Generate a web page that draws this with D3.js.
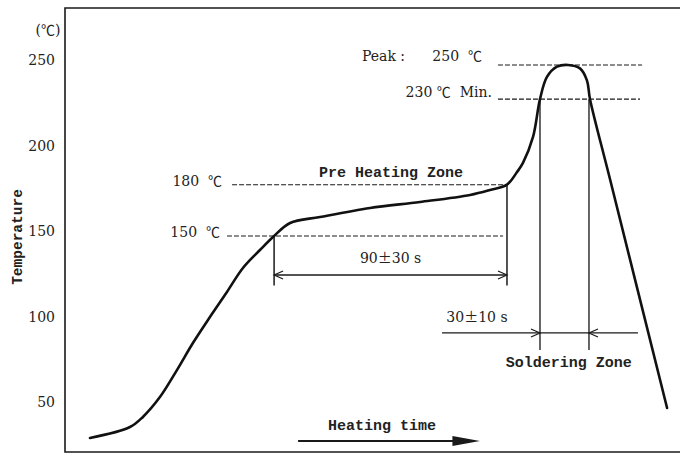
<!DOCTYPE html>
<html>
<head>
<meta charset="utf-8">
<script src="https://cdn.jsdelivr.net/npm/d3@7"></script>
<style>
  html, body { margin: 0; padding: 0; background: #fff; }
  svg { display: block; }
  text { white-space: pre; }
  .mono { font-family: "Liberation Mono", "DejaVu Sans Mono", monospace; font-weight: bold; fill: #222; }
  .serif { font-family: "DejaVu Serif", "Liberation Serif", serif; fill: #222; }
  .cjk { font-family: "Noto Sans CJK JP", "Noto Sans CJK SC", sans-serif; }
</style>
</head>
<body>
<svg id="chart" width="680" height="459"></svg>
<script>
// ---- data (time in s, temperature in °C) ----
const profileTime = [12.2, 31.7, 38.0, 46.3, 54.6, 62.4, 70.7, 79.0, 86.8, 95.1, 102.0,
                     109.8, 124.4, 148.8, 173.2, 197.6, 207.3, 215.6, 220.5, 223.4, 228.3,
                     231.7, 235.1, 240.0, 245.4, 251.2, 254.6, 256.1, 265.9, 293.7];
const profileTemp = [31.9, 38.3, 44.2, 55.8, 71.6, 87.4, 102.6, 117.3, 131.3, 141.8, 150,
                     157.6, 161.1, 166.4, 169.9, 174.0, 176.9, 180, 187.4, 192.7, 207.9,
                     230, 243, 249, 250, 248, 241, 230, 183, 49.4];
const yTicks = [50, 100, 150, 200, 250];
const levelTemps = [150, 180, 230, 250];
const levelNums = ["150  ", "180  ", "230 ", "250  "];
const levelSuffix = ["", "", "  Min.", ""];
const levelStart = [79.0, 81.5, 211.2, 211.2];
const levelEnd = [213.7, 215.6, 280.5, 281.5];
const preheatWindow = [102.0, 215.6];     // 90±30 s
const solderWindow = [231.7, 255.6];      // 30±10 s
const labels = {
  unit: "(℃)", yTitle: "Temperature", peak: "Peak :", degree: "℃",
  preheatZone: "Pre Heating Zone", preheatTime: ["90", "±", "30 s"],
  solderTime: ["30", "±", "10 s"], solderZone: "Soldering Zone", heating: "Heating time"
};

const svg = d3.select("#chart");
const x = d3.scaleLinear().domain([0, 300]).range([65, 680]);
const y = d3.scaleLinear().domain([23.7, 283.3]).range([452, 8]);
const ink = "#1a1a1a";

// frame
svg.append("path")
  .attr("d", `M${x.range()[1]},${y.range()[1]} H${x(0)} V${y.range()[0]} H${x.range()[1]}`)
  .attr("fill", "none").attr("stroke", ink).attr("stroke-width", 1.6);

// y axis labels
const yAxis = d3.axisLeft(y).tickValues(yTicks).tickSize(0).tickPadding(10);
const gy = svg.append("g").attr("transform", `translate(${x(0)},0)`).call(yAxis);
gy.select(".domain").remove();
gy.selectAll("text").attr("class", "serif").attr("font-size", 14)
  .attr("font-family", null).attr("fill", "#222").attr("dy", "-0.02em");

svg.append("text").attr("class", "serif").attr("font-size", 14)
  .attr("x", 48).attr("y", 35).attr("text-anchor", "middle")
  .call(t => {
    t.append("tspan").text("(");
    t.append("tspan").attr("class", "cjk").text(labels.degree);
    t.append("tspan").text(")");
  });

svg.append("text").attr("class", "mono").attr("font-size", 14.5)
  .attr("transform", `translate(22,${y(149.4)}) rotate(-90)`)
  .attr("text-anchor", "middle").text(labels.yTitle);

// dashed level lines
levelTemps.forEach((t, i) => {
  svg.append("line")
    .attr("x1", x(levelStart[i])).attr("x2", x(levelEnd[i]))
    .attr("y1", y(t)).attr("y2", y(t))
    .attr("stroke", ink).attr("stroke-width", 1.1).attr("stroke-dasharray", "5,2");
});
// level labels
const lvlPos = [
  { dx: -7, dy: -4 }, { dx: -10, dy: -4 }, { dx: -6, dy: -7 }, { dx: -16, dy: -9 }
];
levelTemps.forEach((t, i) => {
  svg.append("text").attr("class", "serif").attr("font-size", 14)
    .attr("x", x(levelStart[i]) + lvlPos[i].dx).attr("y", y(t) + lvlPos[i].dy)
    .attr("text-anchor", "end").attr("dy", "0.35em")
    .call(tx => {
      tx.append("tspan").text(levelNums[i]);
      tx.append("tspan").attr("class", "cjk").text(labels.degree);
      if (levelSuffix[i]) tx.append("tspan").text(levelSuffix[i]);
    });
});
svg.append("text").attr("class", "serif").attr("font-size", 14)
  .attr("x", 362).attr("y", y(250) - 9).attr("dy", "0.35em").text(labels.peak);

// preheat window lines
preheatWindow.forEach((t, i) => {
  const tempAt = i === 0 ? 150 : 180;
  svg.append("line").attr("x1", x(t)).attr("x2", x(t))
    .attr("y1", y(tempAt)).attr("y2", y(121))
    .attr("stroke", ink).attr("stroke-width", 1.5);
});

// open arrowheads helper
function openHead(px, py, dir) {
  svg.append("path")
    .attr("d", `M${px - dir * 9},${py - 4} L${px},${py} L${px - dir * 9},${py + 4}`)
    .attr("fill", "none").attr("stroke", ink).attr("stroke-width", 1.2);
}
function pmText(parts, xx, yy, anchor) {
  svg.append("text").attr("class", "serif").attr("font-size", 14)
    .attr("x", xx).attr("y", yy).attr("text-anchor", anchor)
    .call(tx => {
      tx.append("tspan").text(parts[0]);
      tx.append("tspan").attr("class", "cjk").text(parts[1]);
      tx.append("tspan").text(parts[2]);
    });
}
// 90±30 s arrow
const yPre = y(127.2);
svg.append("line").attr("x1", x(preheatWindow[0])).attr("x2", x(preheatWindow[1]))
  .attr("y1", yPre).attr("y2", yPre).attr("stroke", ink).attr("stroke-width", 1.3);
openHead(x(preheatWindow[0]), yPre, -1);
openHead(x(preheatWindow[1]), yPre, 1);
pmText(labels.preheatTime, (x(preheatWindow[0]) + x(preheatWindow[1])) / 2, yPre - 12, "middle");

svg.append("text").attr("class", "mono").attr("font-size", 15)
  .attr("x", x(159)).attr("y", y(180) - 8).attr("text-anchor", "middle").text(labels.preheatZone);

// soldering window
solderWindow.forEach(t => {
  svg.append("line").attr("x1", x(t)).attr("x2", x(t))
    .attr("y1", y(230)).attr("y2", y(83.3))
    .attr("stroke", "#333").attr("stroke-width", 1.5);
});
const ySol = y(93.3);
svg.append("line").attr("x1", x(183.9)).attr("x2", x(279.5))
  .attr("y1", ySol).attr("y2", ySol).attr("stroke", ink).attr("stroke-width", 1.3);
openHead(x(solderWindow[0]), ySol, 1);
openHead(x(solderWindow[1]), ySol, -1);
pmText(labels.solderTime, x(186), ySol - 11, "start");
svg.append("text").attr("class", "mono").attr("font-size", 15)
  .attr("x", x(215)).attr("y", ySol + 34).text(labels.solderZone);

// heating time arrow
const yHeat = y(30.1);
svg.append("line").attr("x1", x(113.7)).attr("x2", x(192))
  .attr("y1", yHeat).attr("y2", yHeat).attr("stroke", ink).attr("stroke-width", 2);
svg.append("path")
  .attr("d", `M${x(189)},${yHeat - 5} L${x(202.4)},${yHeat} L${x(189)},${yHeat + 5} Z`)
  .attr("fill", ink);
svg.append("text").attr("class", "mono").attr("font-size", 15)
  .attr("x", x(128.3)).attr("y", yHeat - 11).text(labels.heating);

// profile curve
const pts = profileTime.map((t, i) => [t, profileTemp[i]]);
const line = d3.line().x(d => x(d[0])).y(d => y(d[1])).curve(d3.curveCatmullRom.alpha(0.5));
svg.append("path").datum(pts).attr("d", line)
  .attr("fill", "none").attr("stroke", "#111").attr("stroke-width", 2.6)
  .attr("stroke-linejoin", "round").attr("stroke-linecap", "round");
</script>
</body>
</html>
